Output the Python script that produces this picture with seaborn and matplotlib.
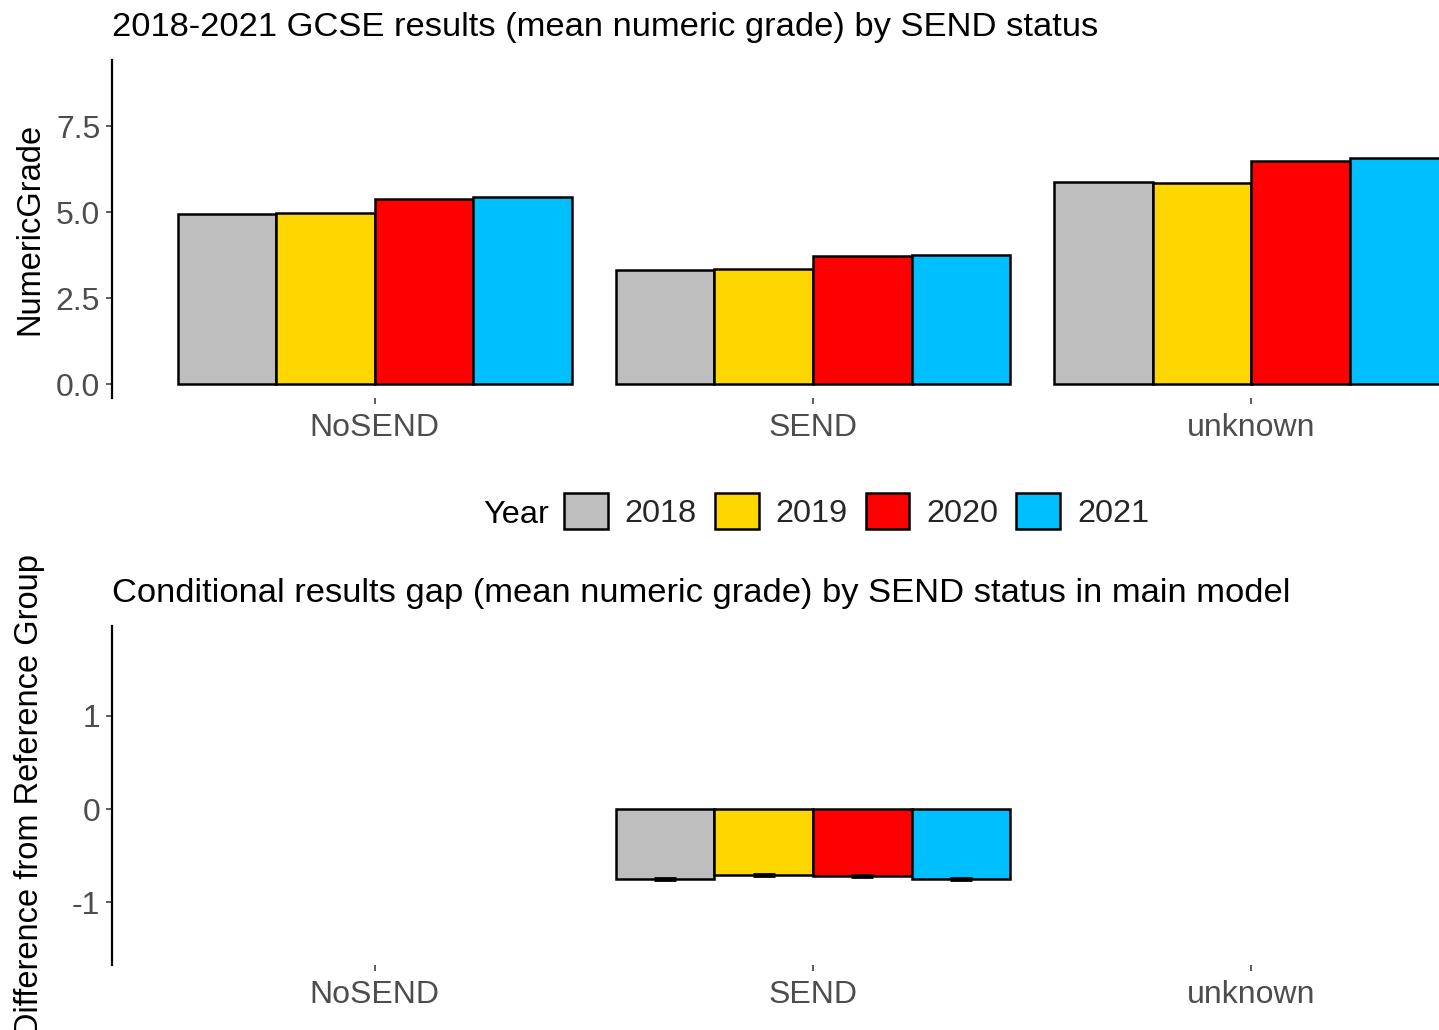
import matplotlib
matplotlib.use("Agg")
import matplotlib.pyplot as plt
import seaborn as sns
import pandas as pd
import numpy as np

# Categories and years
send_status = ["NoSEND", "SEND", "unknown"]
years = ["2018", "2019", "2020", "2021"]
year_colors = ["#BEBEBE", "#FFD700", "#FF0000", "#00BFFF"]

# Mean numeric GCSE grade per SEND status, one list per year
grade_2018 = [4.96, 3.31, 5.88]
grade_2019 = [4.97, 3.35, 5.86]
grade_2020 = [5.37, 3.73, 6.50]
grade_2021 = [5.44, 3.76, 6.58]

# Conditional gap from reference group (SEND only), with standard errors
gap_status = ["SEND", "SEND", "SEND", "SEND"]
gap_years = ["2018", "2019", "2020", "2021"]
gap_values = [-0.75, -0.71, -0.72, -0.75]
gap_se = [0.012, 0.010, 0.010, 0.012]

grades = pd.DataFrame({
    "Status": send_status * 4,
    "Year": [y for y in years for _ in send_status],
    "NumericGrade": grade_2018 + grade_2019 + grade_2020 + grade_2021,
})
gaps = pd.DataFrame({"Status": gap_status, "Year": gap_years, "Gap": gap_values})

sns.set_theme(style="white")
plt.rcParams["font.family"] = ["Liberation Sans", "DejaVu Sans"]

W, H = 1439, 1030
fig = plt.figure(figsize=(W / 100, H / 100), dpi=100)

def px_axes(x0, y0, x1, y1):
    return fig.add_axes([x0 / W, 1 - y1 / H, (x1 - x0) / W, (y1 - y0) / H])

ax1 = px_axes(112, 60, 1514, 398)
ax2 = px_axes(112, 626, 1514, 965)

palette = dict(zip(years, year_colors))
bar_kw = dict(edgecolor="black", linewidth=1.8, width=0.9, gap=0, saturation=1)

sns.barplot(data=grades, x="Status", y="NumericGrade", hue="Year", order=send_status,
            hue_order=years, palette=palette, errorbar=None, ax=ax1, legend=True, **bar_kw)
handles = ax1.legend_.legend_handles
labels = [t.get_text() for t in ax1.legend_.get_texts()]
ax1.legend_.remove()

sns.barplot(data=gaps, x="Status", y="Gap", hue="Year", order=send_status,
            hue_order=years, palette=palette, errorbar=None, ax=ax2, legend=False, **bar_kw)

# Error bars at the bar ends
centers = [p.get_x() + p.get_width() / 2 for p in ax2.patches]
ax2.errorbar(centers, gap_values, yerr=gap_se, fmt="none", ecolor="black",
             elinewidth=2.0, capsize=8, capthick=2.0, zorder=5)

label_color = "#4D4D4D"
for ax, ylim, ticks, ticklabels, ylabel, title in [
    (ax1, (-0.4, 9.42), [0, 2.5, 5, 7.5], ["0.0", "2.5", "5.0", "7.5"], "NumericGrade",
     "2018-2021 GCSE results (mean numeric grade) by SEND status"),
    (ax2, (-1.67, 1.96), [-1, 0, 1], ["-1", "0", "1"], "Difference from Reference Group",
     "Conditional results gap (mean numeric grade) by SEND status in main model"),
]:
    ax.set_xlim(-0.6, 2.6)
    ax.set_ylim(*ylim)
    ax.set_yticks(ticks)
    ax.set_yticklabels(ticklabels)
    ax.set_xlabel("")
    ax.set_ylabel(ylabel, fontsize=23.5, color="black", va="center")
    ax.yaxis.set_label_coords(-0.0585, 0.5)
    ax.set_title(title, loc="left", fontsize=24.8, color="black", pad=17)
    for s in ["top", "right", "bottom"]:
        ax.spines[s].set_visible(False)
    ax.spines["left"].set_color("black")
    ax.spines["left"].set_linewidth(1.6)
    ax.tick_params(axis="both", which="major", length=4.5, width=1.1, color="#333333",
                   labelsize=23, labelcolor=label_color, pad=4, left=True, bottom=True)
    ax.tick_params(axis="x", pad=6)
    ax.set_facecolor("white")

# Horizontal legend between the panels, with "Year" to the left of the keys
leg = fig.legend(handles, labels, loc="center left", bbox_to_anchor=(564 / W, 1 - 511 / H),
                 ncol=4, frameon=False, fontsize=23.4, handlelength=1.35, handleheight=1.35,
                 handletextpad=0.52, columnspacing=0.55, borderpad=0, borderaxespad=0)
for h in leg.legend_handles:
    h.set_edgecolor("black")
    h.set_linewidth(1.8)
fig.text(549 / W, 1 - 523 / H, "Year", ha="right", va="baseline", fontsize=23.4, color="black")

fig.savefig("out.png", dpi=100, facecolor="white")
